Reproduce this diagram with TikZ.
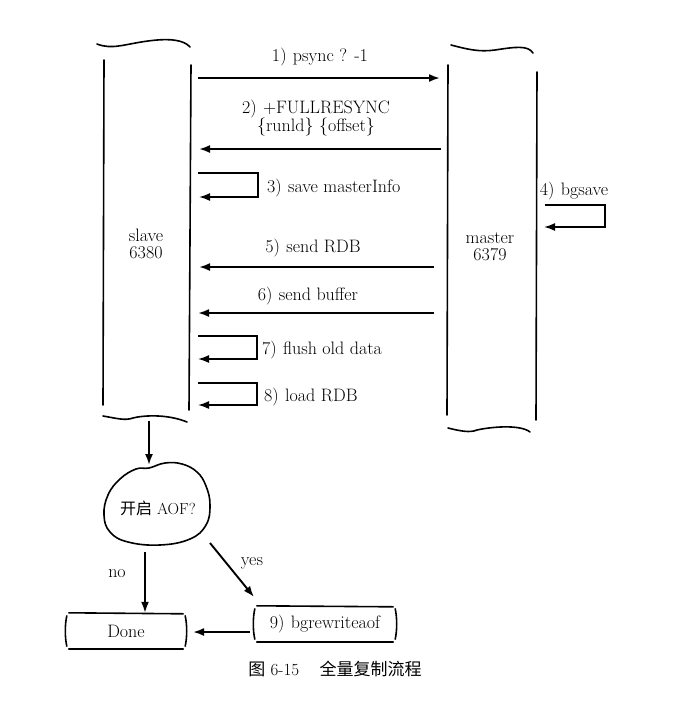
\documentclass[tikz,border=0pt]{standalone}
\usepackage{fontspec}
\newfontfamily\cjk{Noto Sans CJK SC}
\usetikzlibrary{arrows.meta}
\newcommand{\pr}{)\hspace{0.35em}}
\begin{document}
\begin{tikzpicture}[x=1pt,y=-1pt,
  lane/.style={line width=1.6pt, line cap=round},
  wavy/.style={line width=1.6pt, line cap=round},
  msg/.style={line width=1.9pt, -{Latex[length=11pt,width=8pt]}},
  loopar/.style={line width=1.7pt, -{Latex[length=11pt,width=8pt]}},
  lbl/.style={font=\fontsize{18}{21}\selectfont, inner sep=0pt, align=center},
  boxtxt/.style={font=\fontsize{18}{21}\selectfont, inner sep=0pt, minimum height=36pt},
  sk/.style={line width=1.6pt, line cap=round}
]
\useasboundingbox (0,0) rectangle (699,702);

% ---- slave lane
\coordinate (sL1) at (104,60);  \coordinate (sL2) at (103,405);
\coordinate (sR1) at (191,65);  \coordinate (sR2) at (189,410);
\draw[lane] (sL1) -- (sL2);
\draw[lane] (sR1) -- (sR2);
\draw[wavy] (97,44) .. controls (112,50) and (125,44) .. (148,41) .. controls (170,38) and (184,40) .. (190,47);
\draw[wavy] (103,416) .. controls (115,418) and (125,421) .. (133,418) .. controls (140,416) and (165,413) .. (187,422);

% ---- master lane
\coordinate (mL1) at (448,65);  \coordinate (mL2) at (447,415);
\coordinate (mR1) at (537,72);  \coordinate (mR2) at (536,420);
\draw[lane] (mL1) -- (mL2);
\draw[lane] (mR1) -- (mR2);
\draw[wavy] (451,45) .. controls (470,50) and (480,52) .. (495,50) .. controls (515,47) and (528,45) .. (533,53);
\draw[wavy] (448,428) .. controls (460,431) and (470,433) .. (477,430) .. controls (490,427) and (520,424) .. (530,432);

\node[lbl] (slave) at (146,244) {slave\\[-4pt]6380};
\node[lbl] (master) at (490,247) {master\\[-4pt]6379};

% ---- 1) psync
\coordinate (a1s) at (198,78); \coordinate (a1e) at (440,78);
\draw[msg] (a1s) -- (a1e);
\node[lbl] (t1) at (320,57) {1\pr psync ? -1};

% ---- 2) FULLRESYNC
\coordinate (a2s) at (441,149); \coordinate (a2e) at (199,149);
\draw[msg] (a2s) -- (a2e);
\node[lbl] (t2) at (316,118) {2\pr +FULLRESYNC\\[-3pt]\{runld\}\ \{offset\}};

% ---- 3) save masterInfo
\coordinate (l3a) at (198,173); \coordinate (l3b) at (258,173);
\coordinate (l3c) at (258,197); \coordinate (l3d) at (199,197);
\draw[loopar] (l3a) -- (l3b) -- (l3c) -- (l3d);
\node[lbl, anchor=west] (t3) at (267,188) {3\pr save masterInfo};

% ---- 4) bgsave
\coordinate (l4a) at (545,205); \coordinate (l4b) at (605,205);
\coordinate (l4c) at (605,227); \coordinate (l4d) at (544,227);
\draw[loopar] (l4a) -- (l4b) -- (l4c) -- (l4d);
\node[lbl] (t4) at (574,191) {4\pr bgsave};

% ---- 5) send RDB
\coordinate (a5s) at (434,267); \coordinate (a5e) at (199,267);
\draw[msg] (a5s) -- (a5e);
\node[lbl] (t5) at (313,248) {5\pr send RDB};

% ---- 6) send buffer
\coordinate (a6s) at (434,313); \coordinate (a6e) at (198,313);
\draw[msg] (a6s) -- (a6e);
\node[lbl] (t6) at (308,296) {6\pr send buffer};

% ---- 7) flush old data
\coordinate (l7a) at (198,336); \coordinate (l7b) at (257,336);
\coordinate (l7c) at (257,359); \coordinate (l7d) at (198,359);
\draw[loopar] (l7a) -- (l7b) -- (l7c) -- (l7d);
\node[lbl, anchor=west] (t7) at (262,350) {7\pr flush old data};

% ---- 8) load RDB
\coordinate (l8a) at (198,383); \coordinate (l8b) at (257,383);
\coordinate (l8c) at (257,405); \coordinate (l8d) at (198,405);
\draw[loopar] (l8a) -- (l8b) -- (l8c) -- (l8d);
\node[lbl, anchor=west] (t8) at (264,397) {8\pr load RDB};

% ---- decision blob
\node[font=\fontsize{16}{19}\selectfont, inner sep=0pt] (aof) at (158,508) {{\cjk 开启} AOF?};
\draw[sk] plot[smooth cycle, tension=0.7] coordinates {
  (149,468) (165,463) (182,464) (197,472) (206,486) (210,505) (206,525)
  (190,539) (160,545) (128,542) (110,532) (104,515) (108,495) (120,479) (136,469)};
\coordinate (dtop) at (149,465);
\coordinate (dsrc) at (149,421);
\draw[msg] (dsrc) -- (dtop);

% ---- Done and bgrewriteaof boxes
\node[boxtxt, minimum width=118pt] (done) at (126,631) {Done};
\node[boxtxt, minimum width=140pt] (bgr) at (325,624) {9\pr bgrewriteaof};
\foreach \b in {done,bgr}{
  \draw[sk] ([xshift=2pt]\b.north west) -- ([xshift=-2pt,yshift=-1pt]\b.north east);
  \draw[sk] ([xshift=2pt]\b.south west) -- ([xshift=-2pt]\b.south east);
  \draw[sk] ([yshift=-3pt]\b.north west) .. controls ([xshift=-2pt,yshift=-12pt]\b.north west) and ([xshift=-2pt,yshift=12pt]\b.south west) .. ([yshift=3pt]\b.south west);
  \draw[sk] ([yshift=-3pt]\b.north east) .. controls ([xshift=2pt,yshift=-12pt]\b.north east) and ([xshift=2pt,yshift=12pt]\b.south east) .. ([yshift=3pt]\b.south east);
}

\coordinate (nos) at (145,552);
\draw[msg] (nos) -- (done.north -| nos);
\node[lbl] (tno) at (117,574) {no};

\coordinate (yess) at (210,543);
\coordinate (yese) at (254,597);
\draw[msg] (yess) -- (yese);
\node[lbl] (tyes) at (252,563) {yes};

\coordinate (bgw) at (250,632);
\coordinate (dne) at (193,632);
\draw[msg] (bgw) -- (dne);

% ---- caption
\node[font=\fontsize{17}{20}\selectfont, inner sep=0pt] (cap) at (335,669) {{\cjk 图} 6-15\hspace{1.2em}{\cjk 全量复制流程}};
\end{tikzpicture}
\end{document}
